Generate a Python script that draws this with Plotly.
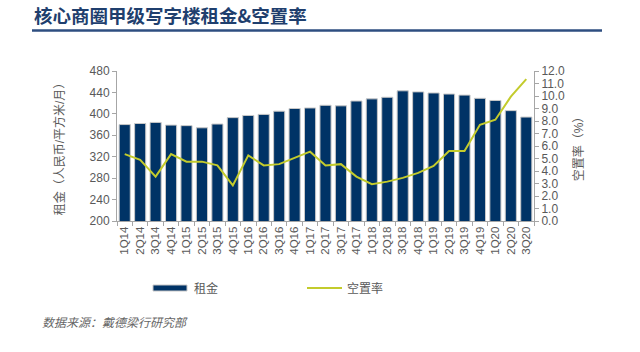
import plotly.graph_objects as go

quarters = ["1Q14","2Q14","3Q14","4Q14","1Q15","2Q15","3Q15","4Q15","1Q16","2Q16","3Q16","4Q16",
            "1Q17","2Q17","3Q17","4Q17","1Q18","2Q18","3Q18","4Q18","1Q19","2Q19","3Q19","4Q19",
            "1Q20","2Q20","3Q20"]
rent = [380, 382, 384, 379, 378, 374, 381, 393, 397, 399, 405, 410,
        411, 416, 415, 424, 428, 431, 443, 441, 439, 437, 435, 429,
        425, 406, 394]
vacancy = [5.35, 4.9, 3.55, 5.35, 4.75, 4.75, 4.45, 2.85, 5.25, 4.45, 4.55, 5.05,
           5.55, 4.45, 4.55, 3.55, 2.95, 3.15, 3.45, 3.85, 4.4, 5.6, 5.6, 7.7,
           8.1, 9.95, 11.35]

NAVY = "#003366"
LIME = "#C3CB2C"
GRAY = "#595959"
AX = "#A6A6A6"
FONT = "Liberation Sans, Noto Sans CJK SC, sans-serif"

fig = go.Figure()
fig.add_trace(go.Bar(x=quarters, y=rent, name="租金", marker=dict(color=NAVY, line=dict(color="#C8C8C8", width=1)),
                     yaxis="y", showlegend=False))
fig.add_trace(go.Scatter(x=quarters, y=vacancy, name="空置率", mode="lines", line=dict(color=LIME, width=2),
                         yaxis="y2", showlegend=False))

fig.update_layout(
    width=640, height=352,
    margin=dict(l=117, r=106, t=71, b=131),
    plot_bgcolor="white", paper_bgcolor="white",
    bargap=0.28,
    font=dict(family=FONT, color=GRAY, size=11),
    xaxis=dict(type="category", range=[-0.5, 26.5], tickangle=-90, showline=True, linecolor=AX,
               ticks="outside", tickson="boundaries", ticklen=4, tickcolor=AX,
               tickfont=dict(size=11.5, color=GRAY), showgrid=False),
    yaxis=dict(range=[200, 480], dtick=40, showline=True, linecolor=AX, ticks="outside", ticklen=4,
               tickcolor=AX, showgrid=False, zeroline=False, tickfont=dict(size=12, color=GRAY),
               title=dict(text="租金（人民币/平方米/月）", font=dict(size=12, color=GRAY), standoff=22)),
    yaxis2=dict(range=[0, 12], dtick=1, tickformat=".1f", overlaying="y", side="right", showline=True,
                linecolor=AX, ticks="outside", ticklen=4, tickcolor=AX, showgrid=False, zeroline=False,
                tickfont=dict(size=12, color=GRAY),
                title=dict(text="空置率（%）", font=dict(size=12, color=GRAY), standoff=10)),
)

def px(xp):
    return (xp - 117) / (640 - 117 - 106)

def py(yp):
    return (352 - 131 - yp) / (352 - 71 - 131)

# title and underline
fig.add_annotation(x=px(32), y=py(15), xref="paper", yref="paper", text="<b>核心商圈甲级写字楼租金&空置率</b>",
                   showarrow=False, xanchor="left", yanchor="middle",
                   font=dict(size=18.5, color="#1F3F6E", family="Noto Sans CJK SC, sans-serif"))
fig.add_shape(type="line", xref="paper", yref="paper", x0=px(32), x1=px(602), y0=py(30.5), y1=py(30.5),
              line=dict(color="#2E4E80", width=2.5))

# legend
fig.add_shape(type="rect", xref="paper", yref="paper", x0=px(153), x1=px(187), y0=py(291), y1=py(285),
              fillcolor=NAVY, line=dict(color="#C8C8C8", width=1))
fig.add_annotation(x=px(192), y=py(288), xref="paper", yref="paper", text="租金", showarrow=False,
                   xanchor="left", yanchor="middle", font=dict(size=12, color=GRAY))
fig.add_shape(type="line", xref="paper", yref="paper", x0=px(307), x1=px(342), y0=py(288), y1=py(288),
              line=dict(color=LIME, width=2))
fig.add_annotation(x=px(345), y=py(288), xref="paper", yref="paper", text="空置率", showarrow=False,
                   xanchor="left", yanchor="middle", font=dict(size=12, color=GRAY))

# source
fig.add_annotation(x=px(40), y=py(323), xref="paper", yref="paper", text="<i>数据来源：戴德梁行研究部</i>",
                   showarrow=False, xanchor="left", yanchor="middle", font=dict(size=12, color="#666666"))

fig.write_html("out.html")
